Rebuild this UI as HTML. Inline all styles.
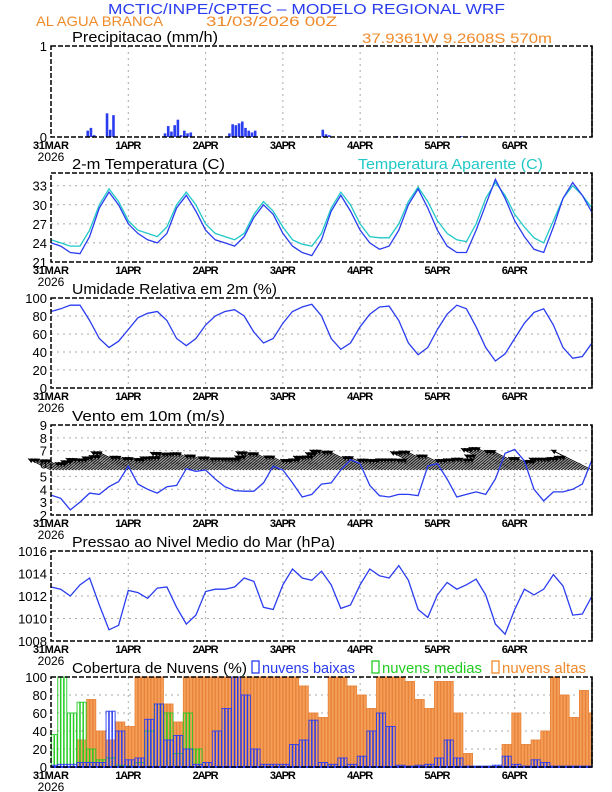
<!DOCTYPE html>
<html><head><meta charset="utf-8"><style>
html,body{margin:0;padding:0;background:#fff;width:612px;height:792px;overflow:hidden}
svg{display:block;font-family:"Liberation Sans",sans-serif}
</style></head><body>
<svg id="c" width="612" height="792" viewBox="0 0 612 792">
<text x="108" y="14" font-size="15" fill="#2a3cf0" textLength="397" lengthAdjust="spacingAndGlyphs">MCTIC/INPE/CPTEC – MODELO REGIONAL WRF</text>
<text x="36" y="26" font-size="14" fill="#f08a2a" textLength="127" lengthAdjust="spacingAndGlyphs">AL AGUA BRANCA</text>
<text x="206" y="26" font-size="14" fill="#f08a2a" textLength="131" lengthAdjust="spacingAndGlyphs">31/03/2026 00Z</text>
<text x="362" y="43" font-size="14" fill="#f08a2a" textLength="190" lengthAdjust="spacingAndGlyphs">37.9361W 9.2608S 570m</text>
</svg>
<script>
const hours=[0,3,6,9,12,15,18,21,24,27,30,33,36,39,42,45,48,51,54,57,60,63,66,69,72,75,78,81,84,87,90,93,96,99,102,105,108,111,114,117,120,123,126,129,132,135,138,141,144,147,150,153,156,159,162,165,168];
const dayLabels=["31MAR","1APR","2APR","3APR","4APR","5APR","6APR"];
const precipHours=[11,12,13,17,18,19,35,36,37,38,39,40,41,42,43,55,56,57,58,59,60,61,62,63,84,85,86,107,127];
const precipVals=[0.07,0.1,0.02,0.26,0.08,0.24,0.04,0.12,0.06,0.13,0.19,0.02,0.07,0.04,0.05,0.04,0.14,0.13,0.15,0.17,0.1,0.07,0.05,0.07,0.08,0.03,0.02,0.01,0.01];
const tempVals=[24,23.5,22.5,22.3,25,29.5,32,30,27,25.5,24.5,24,25.5,29.5,31.5,29,26,24.5,24,23.5,25,28,30,28.5,25.5,23.5,22.5,22,24.5,29,31.5,29,26,24,23,23.5,26,30,32.5,29.5,26,23.5,22.5,22.5,26,30,34,31,27.5,25,23,22.5,26.5,31,33.5,31.5,28.8];
const appTempVals=[24.5,24,23.5,23.5,26,30,32.5,30.5,27.5,26,25.5,25,26.5,30,32,30,27,25.5,25,24.5,25.5,28.5,30.5,29,26.5,24.5,23.8,23.5,25.5,29.5,32,30,27,25,24.8,24.8,27,30.5,32.8,30.5,27.5,25.5,24.5,24.2,27,31,33.5,31.5,28.5,26.5,24.8,24,27.5,31,33,31.5,29.5];
const humVals=[85,88,92,92,75,55,45,52,65,78,83,85,75,55,47,55,70,80,85,87,80,62,50,55,72,85,90,93,80,55,43,50,68,82,90,91,75,50,37,45,65,82,92,88,68,45,30,38,55,72,84,88,70,45,33,35,50];
const windVals=[3.55,3.3,2.4,3.0,3.7,3.6,4.2,4.6,5.8,4.4,4.0,3.7,4.2,4.3,5.6,5.4,5.5,4.8,4.2,3.9,3.85,3.85,4.5,5.8,5.5,4.5,3.4,3.6,4.4,4.5,5.5,6.3,6.0,4.3,3.5,3.4,3.6,3.6,3.5,5.8,6.0,4.8,3.4,3.6,3.8,3.6,4.8,6.8,7.1,6.2,4.0,3.1,3.8,3.8,4.0,4.4,6.3];
const pressVals=[1012.8,1012.6,1012.0,1013.0,1013.6,1011.2,1009.0,1009.4,1012.5,1012.3,1011.8,1012.7,1012.8,1011.0,1009.5,1010.3,1012.4,1012.6,1012.6,1012.8,1013.6,1013.3,1011.0,1010.8,1013.0,1014.4,1013.6,1013.4,1014.2,1013.0,1010.9,1011.2,1013.0,1014.4,1013.8,1013.6,1014.7,1013.4,1010.8,1010.1,1012.1,1013.2,1012.6,1013.0,1013.5,1012.1,1009.5,1008.6,1010.8,1012.6,1012.1,1012.6,1013.9,1012.9,1010.3,1010.4,1012.0];
const highCloud=[0,0,0,30,75,40,30,50,45,100,100,100,70,50,100,100,100,100,100,100,100,100,100,100,100,100,90,60,55,100,100,90,80,65,100,100,100,95,75,65,95,95,60,15,0,0,0,25,60,25,30,40,100,80,55,85,60];
const lowCloud=[2,3,3,5,5,5,62,40,8,10,53,70,30,35,20,3,5,40,65,100,80,20,3,3,3,25,30,52,5,3,10,3,12,40,60,45,2,1,2,3,10,30,10,1,1,1,2,12,3,1,8,5,1,1,1,1,1];
const midCloud=[36,100,60,72,20,8,10,2,1,5,40,70,60,15,60,20,0,0,0,0,0,0,0,0,0,0,0,0,0,0,0,0,0,0,0,0,0,0,0,0,0,0,0,0,0,0,0,0,0,0,0,0,0,0,0,0,0];

const svg=document.getElementById('c');const NS='http://www.w3.org/2000/svg';
const X0=51,X1=592;
function xh(h){return X0+(X1-X0)*h/168;}
function mk(tag,attrs,parent){const e=document.createElementNS(NS,tag);for(const k in attrs)e.setAttribute(k,attrs[k]);(parent||svg).appendChild(e);return e;}
function txt(x,y,s,size,fill,anchor,parent){const t=mk('text',{x:x,y:y,'font-size':size,fill:fill||'#000','text-anchor':anchor||'start'},parent);t.textContent=s;return t;}
function panel(name,top,bot,vmin,vmax,ticks,title,tlen){
  const g=mk('g',{});
  
  
  const y=v=>bot-(v-vmin)/(vmax-vmin)*(bot-top);
  ticks.forEach(t=>{
    if(t!==vmin&&t!==vmax)mk('line',{x1:X0,x2:X1,y1:y(t),y2:y(t),stroke:'#aaa','stroke-dasharray':'2,4'},g);
    const l=txt(X0-4,y(t)+5,String(t),13,'#000','end',g);
    
    
  });
  for(let d=1;d<7;d++){mk('line',{x1:xh(d*24),x2:xh(d*24),y1:top,y2:bot,stroke:'#aaa','stroke-dasharray':'2,4'},g);}
  dayLabels.forEach((s,d)=>{
    const l=txt(xh(d*24),bot+12,s,11,'#000','middle',g);l.setAttribute('font-weight','bold');l.setAttribute('textLength',d==0?36:26);
    
    
  });
  const yr=txt(X0,bot+24,'2026',12,'#000','middle',g);
  
  
  const tt=txt(72,top-4,title,15,'#000','start',g);
  tt.setAttribute('textLength',tlen);tt.setAttribute('lengthAdjust','spacingAndGlyphs');
  
  
  return {g:g,y:y,top:top,bot:bot};
}
function frame(p){const r=mk('rect',{x:X0,y:p.top,width:X1-X0,height:p.bot-p.top,fill:'none',stroke:'#000','stroke-width':1.5,'stroke-dasharray':'5,2'},p.g);
 mk('line',{x1:X1,x2:X1,y1:p.top,y2:p.bot,stroke:'#000','stroke-width':1.5},p.g);}
function line(p,vals,color,name){const pts=vals.map((v,i)=>xh(hours[i]).toFixed(1)+','+p.y(v).toFixed(1)).join(' ');
 const l=mk('polyline',{points:pts,fill:'none',stroke:color,'stroke-width':1.3},p.g);
 
 }

// precipitation
const pp=panel('precip-panel',46,137,0,1,[0,1],'Precipitacao (mm/h)',146);
precipHours.forEach((h,i)=>{const b=mk('rect',{x:xh(h),y:pp.y(precipVals[i]),width:2.6,height:pp.bot-pp.y(precipVals[i]),fill:'#2a3cf0'},pp.g);
 
 });
frame(pp);

// temperature
const tp=panel('temperature-panel',173,262,21,35,[21,24,27,30,33],'2-m Temperatura (C)',153);
const at=txt(358,169,'Temperatura Aparente (C)',15,'#20c8c8','start',tp.g);
at.setAttribute('textLength',185);at.setAttribute('lengthAdjust','spacingAndGlyphs');


line(tp,appTempVals,'#20c8c8','apparent-temp-line');
line(tp,tempVals,'#2a3cf0','temperature-line');
frame(tp);

// humidity
const hp=panel('humidity-panel',298,388,0,100,[0,20,40,60,80,100],'Umidade Relativa em 2m (%)',205);
line(hp,humVals,'#2a3cf0','humidity-line');
frame(hp);

// wind
const wp=panel('wind-panel',425,515,2,9,[2,3,4,5,6,7,8,9],'Vento em 10m (m/s)',153);
const base=wp.y(5.5);
windVals.forEach((v,i)=>{
  const a=mk('g',{},wp.g);
  
  
  for(let k=0;k<3;k++){
    const h=hours[i]+k; if(h>168)continue;
    const x=xh(h);const dx=-v*6.5, dy=-v*3.2;
    const tx=x+dx, ty=base+dy;
    const ang=Math.atan2(dy,dx);
    mk('line',{x1:x,y1:base,x2:tx,y2:ty,stroke:'#000','stroke-width':0.9},a);
    const hl=5,hw=2.5;
    const bx=tx-hl*Math.cos(ang),by=ty-hl*Math.sin(ang);
    mk('polygon',{points:`${tx},${ty} ${bx-hw*Math.sin(ang)},${by+hw*Math.cos(ang)} ${bx+hw*Math.sin(ang)},${by-hw*Math.cos(ang)}`,fill:'#000'},a);
  }
});
line(wp,windVals,'#2a3cf0','wind-speed-line');
frame(wp);

// pressure
const prp=panel('pressure-panel',551,641,1008,1016,[1008,1010,1012,1014,1016],'Pressao ao Nivel Medio do Mar (hPa)',263);
line(prp,pressVals,'#2a3cf0','pressure-line');
frame(prp);

// clouds
const cp=panel('cloud-panel',677,767,0,100,[0,20,40,60,80,100],'Cobertura de Nuvens (%)',175);
const bw=(X1-X0)/168;
function cbars(vals,fill,stroke,name){vals.forEach((v,i)=>{if(v<=0)return;for(let k=-1;k<=1;k++){const h=hours[i]+k;if(h<0||h>=168)continue;
  const b=mk('rect',{x:xh(h)+0.3,y:cp.y(v),width:bw-0.6,height:cp.bot-cp.y(v),fill:fill,stroke:stroke,'stroke-width':0.9},cp.g);
  
  }});}
cbars(highCloud,'#f5a05a','#e8833a','high-cloud-bar');
cbars(midCloud,'none','#22cc22','mid-cloud-bar');
cbars(lowCloud,'none','#2a3cf0','low-cloud-bar');
mk('line',{x1:X0,x2:X1,y1:cp.bot,y2:cp.bot,stroke:'#2a3cf0','stroke-width':2},cp.g);
frame(cp);
[['nuvens baixas','#2a3cf0',252,93],['nuvens medias','#22cc22',372,100],['nuvens altas','#f08a2a',492,84]].forEach(l=>{
  const g=mk('g',{});
  
  
  mk('rect',{x:l[2],y:661,width:7,height:12,fill:'none',stroke:l[1],'stroke-width':1.3},g);
  const t=txt(l[2]+10,673,l[0],15,l[1],'start',g);
  t.setAttribute('textLength',l[3]);t.setAttribute('lengthAdjust','spacingAndGlyphs');
});
</script>
</body></html>
